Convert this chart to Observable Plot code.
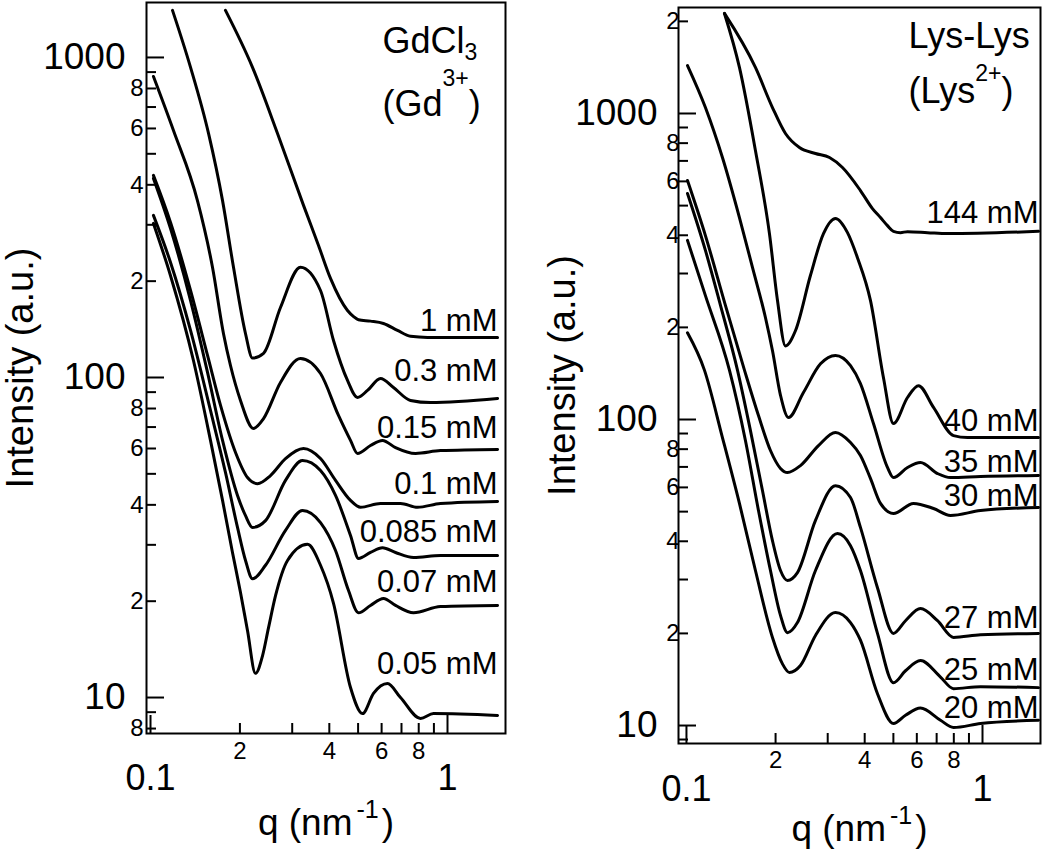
<!DOCTYPE html>
<html>
<head>
<meta charset="utf-8">
<script src="https://cdn.jsdelivr.net/npm/d3@7"></script>
<script src="https://cdn.jsdelivr.net/npm/@observablehq/plot@0.6"></script>
<style>
  html, body { margin: 0; padding: 0; background: #fff; }
  #wrap { position: relative; width: 1050px; height: 860px; overflow: hidden; background: #fff; }
  #left { position: absolute; left: 0; top: 0; }
  #right { position: absolute; left: 520px; top: 0; }
</style>
</head>
<body>
<div id="wrap"><div id="left"></div><div id="right"></div></div>
<script>
// ---------- axis ticks ----------
const xMajor = [0.1, 1];
const xMajorText = ["0.1", "1"];
const xMinor = [0.2, 0.3, 0.4, 0.5, 0.6, 0.7, 0.8, 0.9];
const xMinorLabeled = [0.2, 0.4, 0.6, 0.8];
const xMinorText = ["2", "4", "6", "8"];

const yMajor = [10, 100, 1000];
const yMajorText = ["10", "100", "1000"];
const gdYMinor = [8, 9, 20, 30, 40, 50, 60, 70, 80, 90, 200, 300, 400, 500, 600, 700, 800, 900];
const gdYMinorLabeled = [8, 20, 40, 60, 80, 200, 400, 600, 800];
const gdYMinorText = ["8", "2", "4", "6", "8", "2", "4", "6", "8"];
const lyYMinor = [9, 20, 30, 40, 50, 60, 70, 80, 90, 200, 300, 400, 500, 600, 700, 800, 900, 2000];
const lyYMinorLabeled = [20, 40, 60, 80, 200, 400, 600, 800, 2000];
const lyYMinorText = ["2", "4", "6", "8", "2", "4", "6", "8", "2"];

// ---------- GdCl3 panel: [q (nm^-1), intensity (a.u.)] ----------
const gdNames = ["1 mM", "0.3 mM", "0.15 mM", "0.1 mM", "0.085 mM", "0.07 mM", "0.05 mM"];
const gdLabelAt = [149.6, 104.4, 69.3, 46.3, 33.0, 22.9, 12.7];
const gd_1 = [[0.1788,1403],[0.2205,931],[0.2677,579],[0.3275,345],[0.3679,258.5],[0.4037,204],[0.4606,162],[0.4830,155],[0.5015,151.5],[0.5504,150.0],[0.6087,147.5],[0.6786,140.3],[0.7506,134.5],[0.8564,133.4],[1.474,133.4]];
const gd_03 = [[0.1186,1403],[0.1364,931],[0.1568,579],[0.1748,357],[0.1903,221],[0.2089,137],[0.2205,115],[0.2402,119],[0.2739,165.5],[0.3199,221],[0.3736,187],[0.4132,130.5],[0.4606,97.9],[0.4977,86.6],[0.5377,91.1],[0.5948,99.3],[0.6579,93.0],[0.7506,84.8],[0.8766,83.5],[1.474,86.0]];
const gd_015 = [[0.1023,872],[0.1195,591],[0.1439,357],[0.1617,221],[0.1761,137],[0.1859,109],[0.2009,84.8],[0.2222,69.3],[0.2402,74.4],[0.2739,96.5],[0.3199,114.7],[0.3736,102.9],[0.4295,76.1],[0.4714,63.6],[0.4977,57.9],[0.5504,61.3],[0.6040,63.6],[0.6683,60.4],[0.7805,57.9],[0.9471,59.1],[1.474,59.6]];
const gd_01 = [[0.1023,428],[0.1168,305],[0.1364,187],[0.1556,117.2],[0.1721,81.8],[0.1933,58.3],[0.2121,48.7],[0.2293,46.6],[0.2535,49.4],[0.2848,55.8],[0.3275,60.0],[0.3736,55.8],[0.4197,47.7],[0.4714,41.3],[0.5094,39.3],[0.5948,40.4],[0.6946,40.4],[0.7925,39.3],[0.9471,40.4],[1.474,41.0]];
const gd_0085 = [[0.1023,419],[0.1168,292],[0.1364,174],[0.1556,103.7],[0.1748,63.6],[0.1963,42.8],[0.2089,37.0],[0.2205,34.0],[0.2439,35.7],[0.2848,47.7],[0.3249,55.0],[0.3736,51.2],[0.4197,42.8],[0.4714,32.1],[0.5015,27.2],[0.5504,28.4],[0.6040,29.4],[0.6683,28.4],[0.7684,27.4],[0.9471,27.8],[1.474,27.8]];
const gd_007 = [[0.1023,321],[0.1168,228.8],[0.1364,140.3],[0.1592,78.9],[0.1788,50.5],[0.1963,34.0],[0.2089,26.8],[0.2205,23.5],[0.2439,25.9],[0.2848,33.3],[0.3249,38.4],[0.3736,35.2],[0.4197,28.8],[0.4642,21.6],[0.5015,18.4],[0.5504,19.4],[0.6087,20.4],[0.6683,19.4],[0.7684,18.4],[0.9471,19.25],[1.474,19.4]];
const gd_005 = [[0.1023,303],[0.1168,208],[0.1395,113.0],[0.1592,63.6],[0.1748,41.3],[0.1888,28.4],[0.2009,21.3],[0.2121,16.2],[0.2257,11.9],[0.2383,13.5],[0.2496,16.5],[0.2636,20.8],[0.2893,26.8],[0.3378,30.1],[0.3736,25.9],[0.4132,19.7],[0.4714,10.75],[0.5174,8.91],[0.5634,10.3],[0.6281,11.06],[0.6946,10.0],[0.8113,8.60],[0.8971,8.91],[1.474,8.79]];
const gdCurves = [gd_1, gd_03, gd_015, gd_01, gd_0085, gd_007, gd_005];

// ---------- Lys-Lys panel ----------
const lyNames = ["144 mM", "40 mM", "35 mM", "30 mM", "27 mM", "25 mM", "20 mM"];
const lyLabelAt = [471, 98.5, 72.4, 56.4, 22.4, 15.2, 11.4];
const ly_144 = [[0.1344,2123],[0.1710,1414],[0.1952,1046],[0.2160,860],[0.2408,774],[0.2728,740],[0.3042,718],[0.3365,666],[0.3870,560],[0.4249,489],[0.4522,457],[0.4775,430],[0.5003,412],[0.5284,408],[0.5580,411],[0.6521,408],[0.7616,405],[1.546,412]];
const ly_40 = [[0.1344,2123],[0.1510,1414],[0.1710,757],[0.1907,405],[0.2030,245],[0.2160,174],[0.2334,195],[0.2624,296],[0.2903,405],[0.3187,454],[0.3499,408],[0.3781,338],[0.4183,245],[0.4629,137],[0.5003,97.0],[0.5580,118],[0.6078,129],[0.6831,109.5],[0.7980,88.6],[0.8899,87.3],[1.546,87.3]];
const ly_35 = [[0.1008,1435],[0.1159,1046],[0.1323,718],[0.1510,457],[0.1671,314],[0.1849,215],[0.1952,168],[0.2078,120],[0.2211,101.5],[0.2484,122.5],[0.2836,152],[0.3187,162],[0.3582,150],[0.3870,131],[0.4282,97.0],[0.4775,69.7],[0.5003,64.6],[0.5580,69.7],[0.6173,72.4],[0.7047,66.6],[0.7796,64.6],[0.9845,65.1],[1.546,65.6]];
const ly_30 = [[0.1008,604],[0.1159,399],[0.1354,236],[0.1570,145],[0.1751,103],[0.1922,79.2],[0.2078,69.2],[0.2194,67.1],[0.2427,70.7],[0.2792,82.2],[0.3187,90.7],[0.3582,84.1],[0.3870,76.3],[0.4183,64.2],[0.4522,53.2],[0.5003,49.3],[0.5847,53.2],[0.6831,51.2],[0.7796,48.6],[0.9845,50.4],[1.546,51.6]];
const ly_27 = [[0.1008,548],[0.1159,357],[0.1303,236],[0.1487,145],[0.1645,92.0],[0.1806,58.6],[0.1952,40.2],[0.2078,32.1],[0.2194,29.8],[0.2371,31.6],[0.2728,46.8],[0.3187,60.8],[0.3582,55.6],[0.3870,44.4],[0.4418,28.2],[0.5003,20.0],[0.5494,22.0],[0.6173,24.1],[0.7047,22.0],[0.7980,19.4],[0.9845,19.8],[1.546,20.0]];
const ly_25 = [[0.1008,385],[0.1159,254],[0.1397,145],[0.1582,85.4],[0.1751,50.4],[0.1922,32.1],[0.2078,22.9],[0.2194,20.1],[0.2371,21.7],[0.2728,32.1],[0.3237,42.4],[0.3582,38.7],[0.3870,32.1],[0.4418,20.0],[0.5003,13.8],[0.5494,15.1],[0.6173,16.3],[0.7213,14.4],[0.7980,13.2],[0.9845,13.4],[1.546,13.3]];
const ly_20 = [[0.1008,192],[0.1150,145],[0.1323,87.3],[0.1510,53.2],[0.1710,32.1],[0.1952,19.4],[0.2110,15.9],[0.2228,14.9],[0.2427,15.7],[0.2728,19.7],[0.3187,23.4],[0.3582,21.7],[0.3870,19.0],[0.4418,12.7],[0.5003,10.15],[0.5494,10.8],[0.6173,11.4],[0.7213,10.4],[0.7980,9.85],[0.9845,10.15],[1.546,10.4]];
const lyCurves = [ly_144, ly_40, ly_35, ly_30, ly_27, ly_25, ly_20];

// ---------- rendering ----------
const FONT = "'Liberation Sans', Arial, Helvetica, sans-serif";

function rows(names, curves) {
  return names.flatMap((n, i) => curves[i].map(([q, I]) => ({series: n, q, I})));
}

function makePanel(cfg) {
  const H = 860;
  const innerW = cfg.width - cfg.ml - cfg.mr;
  const innerH = H - cfg.mt - cfg.mb;
  const data = rows(cfg.names, cfg.curves);
  const labels = cfg.names.map((n, i) => ({name: n, at: cfg.labelAt[i]}));
  return Plot.plot({
    width: cfg.width, height: H,
    marginLeft: cfg.ml, marginRight: cfg.mr, marginTop: cfg.mt, marginBottom: cfg.mb,
    style: {fontFamily: FONT, background: "transparent", color: "#000", overflow: "visible"},
    x: {type: "log", domain: cfg.xDomain, axis: null},
    y: {type: "log", domain: cfg.yDomain, axis: null},
    marks: [
      Plot.line(data, {x: "q", y: "I", z: "series", curve: "monotone-x", stroke: "#000", strokeWidth: 3}),
      Plot.frame({stroke: "#000", strokeWidth: 2}),
      Plot.tickX(xMajor, {x: d => d, insetTop: innerH - 18, stroke: "#000", strokeWidth: 2}),
      Plot.tickX(xMinor, {x: d => d, insetTop: innerH - 10, stroke: "#000", strokeWidth: 2}),
      Plot.tickY(yMajor, {y: d => d, insetRight: innerW - 18, stroke: "#000", strokeWidth: 2}),
      Plot.tickY(cfg.yMinor, {y: d => d, insetRight: innerW - 10, stroke: "#000", strokeWidth: 2}),
      Plot.text(xMinorLabeled, {x: d => d, text: (d, i) => xMinorText[i], frameAnchor: "bottom", dy: cfg.xMinorDy, textAnchor: "middle", fontSize: 24, fill: "#000"}),
      Plot.text(xMajor, {x: d => d, text: (d, i) => xMajorText[i], frameAnchor: "bottom", dy: cfg.xMajorDy, textAnchor: "middle", fontSize: 36, fill: "#000"}),
      Plot.text(yMajor, {y: d => d, text: (d, i) => yMajorText[i], frameAnchor: "left", dx: -21, textAnchor: "end", fontSize: 37, fill: "#000"}),
      Plot.text(cfg.yMinorLabeled, {y: d => d, text: (d, i) => cfg.yMinorText[i], frameAnchor: "left", dx: cfg.yMinorDx, textAnchor: "end", fontSize: 24, fill: "#000"}),
      Plot.text(labels, {y: "at", text: "name", frameAnchor: "right", dx: cfg.labelDx, textAnchor: "end", fontSize: 31, fill: "#000"}),
      Plot.text(["Intensity (a.u.)"], {text: d => d, frameAnchor: "left", dx: cfg.yTitleDx, rotate: -90, textAnchor: "middle", fontSize: 38, fill: "#000"}),
      Plot.text(["q (nm-1)"], {text: d => d, frameAnchor: "bottom", dy: cfg.xTitleDy, textAnchor: "middle", fontSize: 37, fill: "#000"}),
      Plot.text([cfg.title1], {text: d => d, frameAnchor: "top-left", dx: cfg.titleDx, dy: cfg.title1Dy, textAnchor: "start", lineAnchor: "bottom", fontSize: 36, fill: "#000"}),
      Plot.text([cfg.title2], {text: d => d, frameAnchor: "top-left", dx: cfg.titleDx, dy: cfg.title2Dy, textAnchor: "start", lineAnchor: "bottom", fontSize: 36, fill: "#000"})
    ]
  });
}

function rich(svg, plain, parts) {
  d3.select(svg).selectAll("text").filter(function() { return this.textContent === plain; }).each(function() {
    const el = d3.select(this);
    el.text(null);
    for (const p of parts) {
      const ts = el.append("tspan").text(p.t);
      if (p.dy) ts.attr("dy", p.dy);
      if (p.dx) ts.attr("dx", p.dx);
      if (p.size) ts.attr("font-size", p.size);
    }
  });
}

const left = makePanel({
  width: 520, ml: 146, mr: 15, mt: 2, mb: 127,
  xDomain: [0.09694, 1.5678], yDomain: [7.72, 1485],
  names: gdNames, curves: gdCurves, labelAt: gdLabelAt,
  yMinor: gdYMinor, yMinorLabeled: gdYMinorLabeled, yMinorText: gdYMinorText,
  yMinorDx: -3, labelDx: -8, xMinorDy: 25, xMajorDy: 56,
  yTitleDx: -126, xTitleDy: 101,
  title1: "GdCl3", title2: "(Gd3+)", titleDx: 236, title1Dy: 50, title2Dy: 113
});
const right = makePanel({
  width: 530, ml: 158, mr: 10, mt: 7, mb: 117,
  xDomain: [0.0940, 1.570], yDomain: [8.735, 2220],
  names: lyNames, curves: lyCurves, labelAt: lyLabelAt,
  yMinor: lyYMinor, yMinorLabeled: lyYMinorLabeled, yMinorText: lyYMinorText,
  yMinorDx: 1, labelDx: -2, xMinorDy: 24, xMajorDy: 57,
  yTitleDx: -116, xTitleDy: 97,
  title1: "Lys-Lys", title2: "(Lys2+)", titleDx: 230, title1Dy: 40, title2Dy: 95
});

for (const svg of [left, right]) {
  rich(svg, "q (nm-1)", [{t: "q (nm"}, {t: "-1", size: 25, dy: -17, dx: 4}, {t: ")", dy: 17, dx: 3}]);
}
rich(left, "GdCl3", [{t: "GdCl"}, {t: "3", size: 23, dy: 7}]);
rich(left, "(Gd3+)", [{t: "(Gd"}, {t: "3+", size: 23, dy: -30}, {t: ")", dy: 30}]);
rich(right, "(Lys2+)", [{t: "(Lys"}, {t: "2+", size: 23, dy: -22}, {t: ")", dy: 22}]);

document.getElementById("left").appendChild(left);
document.getElementById("right").appendChild(right);
</script>
</body>
</html>
